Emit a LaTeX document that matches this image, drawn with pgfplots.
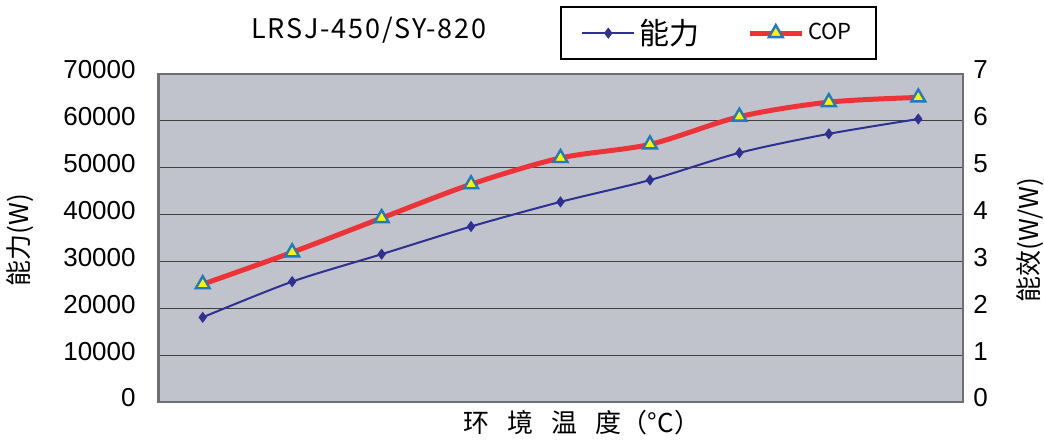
\documentclass[border=0pt]{standalone}
\usepackage{fontspec}
\setmainfont{Liberation Sans}
\newfontfamily\cjk{Noto Sans CJK SC}
\newfontfamily\cjkt[LetterSpace=7]{Noto Sans CJK SC}
\usepackage{pgfplots}
\usepackage{pgfplotstable}
\pgfplotsset{compat=1.18}
\definecolor{bgc}{HTML}{C0C3CB}
\definecolor{capblue}{HTML}{2E3192}
\definecolor{copred}{HTML}{EE3338}
\definecolor{triyel}{HTML}{FFF200}
\definecolor{triedge}{HTML}{2179BF}
\definecolor{framec}{HTML}{6D6F73}

\pgfplotstableread{
x cap
1 18050
2 25650
3 31500
4 37400
5 42650
6 47300
7 53100
8 57150
9 60300
}\captable
\pgfplotstableread{
x cop
1 2.51
2 3.19
3 3.92
4 4.64
5 5.20
6 5.49
7 6.08
8 6.39
9 6.49
}\coptable

\begin{document}
\begin{tikzpicture}
\pgfplotsset{every axis/.append style={scale only axis, width=402.5pt, height=164.25pt,
  xmin=0.5, xmax=9.5, at={(79pt,19.5pt)}, anchor=south west}}
\begin{axis}[
 ymin=0, ymax=70000, ytick={0,10000,...,70000},
 xtick=\empty,
 axis background/.style={fill=bgc},
 ymajorgrids, grid style={black!75, line width=0.5pt},
 major tick length=0pt,
 scaled y ticks=false,
 yticklabel style={font=\fontsize{13}{15}\selectfont, inner sep=0pt, anchor=east, xshift=-11pt, yshift=2pt},
 /pgf/number format/assume math mode=true,
 /pgf/number format/set thousands separator={},
 axis line style={draw=framec, line width=1pt},
]
\addplot[capblue, line width=1pt, smooth, mark=diamond*, mark size=2pt, mark options={fill=capblue}] table[x=x,y=cap]{\captable};
\draw[framec, line width=1.8pt] (rel axis cs:0,0) -- (rel axis cs:0,1);
\end{axis}
\begin{axis}[
 ymin=0, ymax=7, ytick={0,...,7},
 axis y line*=right, axis x line=none,
 y axis line style={draw=none},
 major tick length=0pt,
 yticklabel style={font=\fontsize{13}{15}\selectfont, inner sep=0pt, anchor=west, xshift=5pt, yshift=2pt},
 /pgf/number format/assume math mode=true,
 legend style={at={(0.893,1.2055)}, anchor=north east, draw=black, line width=1pt, fill=white,
   inner xsep=10pt, inner ysep=4pt,
   /tikz/every even column/.append style={column sep=22pt}},
 legend columns=2,
 legend image code/.code={\draw[mark repeat=2,mark phase=2,#1] plot coordinates {(0pt,0pt) (13pt,0pt) (26pt,0pt)};},
]
\addlegendimage{capblue, line width=1pt, mark=diamond*, mark size=2pt, mark options={fill=capblue}}
\addlegendentry{\cjk\fontsize{15}{17}\selectfont 能力}
\addplot[copred, line width=2.5pt, smooth, mark=triangle*, mark size=4pt,
  mark options={fill=triyel, draw=triedge, line width=1.2pt}] table[x=x,y=cop]{\coptable};
\addlegendentry{\cjk\fontsize{11}{13}\selectfont COP}
\end{axis}
\node[font=\cjkt\fontsize{13.5}{15}\selectfont] at (184.5pt,205.5pt) {LRSJ-450/SY-820};
\node[font=\cjk\fontsize{13}{15}\selectfont] at (291pt,9pt) {环\hspace{9pt}境\hspace{9pt}温\hspace{9pt}度（°C）};
\node[font=\cjk\fontsize{13}{15}\selectfont, rotate=90] at (10pt,100.5pt) {能力(W)};
\node[font=\cjk\fontsize{13}{15}\selectfont, rotate=90] at (515pt,100.5pt) {能效(W/W)};
\pgfresetboundingbox
\useasboundingbox (0,0) rectangle (522pt,220.5pt);
\end{tikzpicture}
\end{document}
